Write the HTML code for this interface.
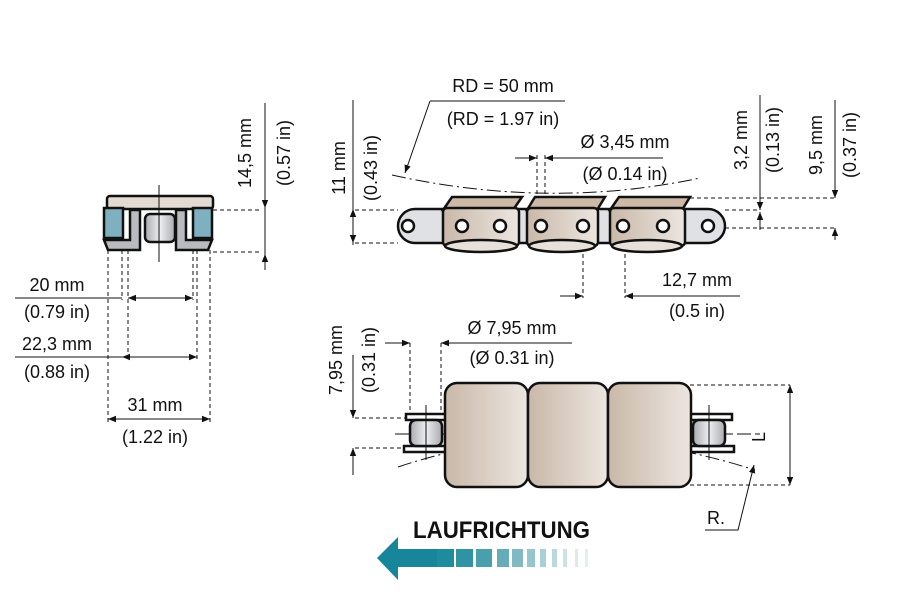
<!DOCTYPE html>
<html><head><meta charset="utf-8"><style>
html,body{margin:0;padding:0;background:#fff;width:900px;height:616px;overflow:hidden}
text{font-family:"Liberation Sans",sans-serif;font-size:18px;fill:#111}
</style></head><body>
<svg width="900" height="616" viewBox="0 0 900 616" xmlns="http://www.w3.org/2000/svg">
<defs>
<linearGradient id="tan" x1="0" x2="1"><stop offset="0" stop-color="#c9b8a8"/><stop offset="1" stop-color="#ece6e0"/></linearGradient>
<linearGradient id="grey" x1="0" x2="1"><stop offset="0" stop-color="#a9abb0"/><stop offset=".5" stop-color="#eceef0"/><stop offset="1" stop-color="#a9abb0"/></linearGradient>
<marker id="a" viewBox="0 0 10 10" refX="10" refY="5" markerWidth="8" markerHeight="8" orient="auto-start-reverse"><path d="M0,1 L10,5 L0,9 z" fill="#111"/></marker>
</defs>
<g stroke="#111" fill="none" stroke-width="1">
<g stroke-dasharray="4,3">
<line x1="122" y1="250" x2="122" y2="300"/><line x1="128" y1="250" x2="128" y2="360"/>
<line x1="108" y1="250" x2="108" y2="422"/><line x1="210" y1="250" x2="210" y2="422"/>
<line x1="193" y1="250" x2="193" y2="300"/><line x1="197" y1="250" x2="197" y2="360"/>
<line x1="213" y1="210" x2="262" y2="210"/><line x1="213" y1="252" x2="262" y2="252"/>
</g>
<line x1="15" y1="298" x2="122" y2="298"/><line x1="128" y1="298" x2="193" y2="298" marker-start="url(#a)" marker-end="url(#a)"/>
<line x1="15" y1="357" x2="122" y2="357"/><line x1="122" y1="357" x2="197" y2="357" marker-start="url(#a)" marker-end="url(#a)"/>
<line x1="108" y1="419" x2="210" y2="419" marker-start="url(#a)" marker-end="url(#a)"/>
<line x1="265" y1="103" x2="265" y2="208" marker-end="url(#a)"/><line x1="265" y1="270" x2="265" y2="254" marker-end="url(#a)"/>
<line x1="265" y1="103" x2="265" y2="270"/>
</g>
<g stroke="#111" stroke-width="2.5">
<rect x="107" y="196" width="106" height="13" rx="3" fill="#e3dbd1"/>
<path d="M104 240 H130 V210 H140 V250 H108 Z" fill="#b9bbbf"/>
<path d="M212 240 H186 V210 H176 V250 H208 Z" fill="#b9bbbf"/>
<rect x="104" y="208" width="19" height="30" fill="#7fb0bf"/>
<rect x="193" y="208" width="19" height="30" fill="#7fb0bf"/>
<rect x="145" y="214" width="30" height="28" rx="5" fill="url(#grey)"/>
</g>
<line x1="159" y1="185" x2="159" y2="262" stroke="#111" stroke-width="1"/>

<g stroke="#111" fill="none" stroke-width="1">
<line x1="353" y1="100" x2="353" y2="245"/>
<line x1="353" y1="215" x2="353" y2="209" marker-end="url(#a)"/><line x1="353" y1="236" x2="353" y2="243" marker-end="url(#a)"/>
<line x1="760" y1="95" x2="760" y2="210" marker-end="url(#a)"/><line x1="760" y1="230" x2="760" y2="212" marker-end="url(#a)"/>
<line x1="835" y1="100" x2="835" y2="198" marker-end="url(#a)"/><line x1="835" y1="240" x2="835" y2="228" marker-end="url(#a)"/>
<g stroke-dasharray="4,3">
<line x1="355" y1="210" x2="398" y2="210"/><line x1="355" y1="243" x2="398" y2="243"/>
<line x1="690" y1="198" x2="835" y2="198"/><line x1="725" y1="210" x2="760" y2="210"/><line x1="725" y1="228" x2="835" y2="228"/>
<line x1="537" y1="155" x2="537" y2="226"/><line x1="545" y1="155" x2="545" y2="226"/>
<line x1="583" y1="240" x2="583" y2="298"/><line x1="625" y1="240" x2="625" y2="298"/>
</g>
<line x1="515" y1="158" x2="537" y2="158" marker-end="url(#a)"/><line x1="663" y1="158" x2="545" y2="158" marker-end="url(#a)"/>
<line x1="560" y1="296" x2="583" y2="296" marker-end="url(#a)"/><line x1="740" y1="296" x2="625" y2="296" marker-end="url(#a)"/>
<line x1="430" y1="101" x2="565" y2="101"/><line x1="430" y1="101" x2="405" y2="173" marker-end="url(#a)"/>
<path d="M392 175 Q550 210 700 178" stroke-dasharray="14,4,2,4"/>
<line x1="400" y1="226" x2="720" y2="226" stroke-dasharray="12,4"/>
</g>
<g stroke="#111" stroke-width="2.5">
<rect x="398" y="209" width="327" height="34" rx="17" fill="#dfe1e4"/>
<path d="M443 210 L452 197 L522 197 L513 210 Z M527 210 L535 197 L605 197 L597 210 Z M610 210 L619 197 L690 197 L682 210 Z" fill="#cdb9a7"/>
<rect x="443" y="208" width="76" height="38" rx="4" fill="url(#tan)"/>
<rect x="527" y="208" width="71" height="38" rx="4" fill="url(#tan)"/>
<rect x="610" y="208" width="75" height="38" rx="4" fill="url(#tan)"/>
<ellipse cx="481" cy="246" rx="36" ry="6" fill="#e8e1da"/>
<ellipse cx="562" cy="246" rx="33" ry="6" fill="#e8e1da"/>
<ellipse cx="647" cy="246" rx="35" ry="6" fill="#e8e1da"/>
<g fill="#fff" stroke-width="2.5">
<circle cx="408" cy="226" r="6"/><circle cx="462" cy="226" r="6"/><circle cx="500" cy="226" r="6"/><circle cx="541" cy="226" r="6"/><circle cx="583" cy="226" r="6"/><circle cx="623" cy="226" r="6"/><circle cx="663" cy="226" r="6"/><circle cx="708" cy="226" r="6"/>
</g>
</g>

<g stroke="#111" fill="none" stroke-width="1">
<line x1="353" y1="355" x2="353" y2="418" marker-end="url(#a)"/><line x1="353" y1="475" x2="353" y2="448" marker-end="url(#a)"/>
<line x1="385" y1="343" x2="410" y2="343" marker-end="url(#a)"/><line x1="572" y1="343" x2="441" y2="343" marker-end="url(#a)"/>
<line x1="790" y1="385" x2="790" y2="485" marker-start="url(#a)" marker-end="url(#a)"/>
<g stroke-dasharray="4,3">
<line x1="410" y1="343" x2="410" y2="414"/><line x1="441" y1="343" x2="441" y2="414"/>
<line x1="355" y1="418" x2="445" y2="418"/><line x1="355" y1="448" x2="445" y2="448"/>
<line x1="690" y1="385" x2="790" y2="385"/><line x1="690" y1="485" x2="790" y2="485"/>
</g>
<line x1="395" y1="434" x2="760" y2="434" stroke-dasharray="14,4"/>
<path d="M398 467 Q567 410 755 470" stroke-dasharray="14,4,2,4"/>
<polyline points="705,530 738,530 754,465" marker-end="url(#a)"/>
</g>
<g stroke="#111" stroke-width="2.5">
<rect x="406" y="414" width="40" height="6" fill="#fff"/><rect x="404" y="446" width="42" height="6" fill="#fff"/>
<rect x="410" y="420" width="32" height="26" rx="6" fill="url(#grey)"/>
<rect x="690" y="414" width="42" height="6" fill="#fff"/><rect x="690" y="446" width="44" height="6" fill="#fff"/>
<rect x="693" y="420" width="32" height="26" rx="6" fill="url(#grey)"/>
<rect x="445" y="383" width="83" height="104" rx="12" fill="url(#tan)"/>
<rect x="528" y="383" width="80" height="104" rx="12" fill="url(#tan)"/>
<rect x="608" y="383" width="83" height="104" rx="12" fill="url(#tan)"/>
</g>
<g stroke="#111" stroke-width="1"><line x1="426" y1="405" x2="426" y2="460"/><line x1="709" y1="405" x2="709" y2="460"/></g>

<text x="57" y="291" text-anchor="middle">20 mm</text><text x="57" y="318" text-anchor="middle">(0.79 in)</text>
<text x="57" y="350" text-anchor="middle">22,3 mm</text><text x="57" y="378" text-anchor="middle">(0.88 in)</text>
<text x="155" y="411" text-anchor="middle">31 mm</text><text x="155" y="443" text-anchor="middle">(1.22 in)</text>
<text transform="translate(251,153) rotate(-90)" text-anchor="middle">14,5 mm</text>
<text transform="translate(290,153) rotate(-90)" text-anchor="middle">(0.57 in)</text>
<text transform="translate(345,168) rotate(-90)" text-anchor="middle">11 mm</text>
<text transform="translate(377,168) rotate(-90)" text-anchor="middle">(0.43 in)</text>
<text x="503" y="92" text-anchor="middle">RD = 50 mm</text><text x="503" y="125" text-anchor="middle">(RD = 1.97 in)</text>
<text x="625" y="148" text-anchor="middle">Ø 3,45 mm</text><text x="625" y="180" text-anchor="middle">(Ø 0.14 in)</text>
<text transform="translate(747,140) rotate(-90)" text-anchor="middle">3,2 mm</text>
<text transform="translate(779,140) rotate(-90)" text-anchor="middle">(0.13 in)</text>
<text transform="translate(822,145) rotate(-90)" text-anchor="middle">9,5 mm</text>
<text transform="translate(856,145) rotate(-90)" text-anchor="middle">(0.37 in)</text>
<text x="697" y="286" text-anchor="middle">12,7 mm</text><text x="697" y="317" text-anchor="middle">(0.5 in)</text>
<text transform="translate(342,360) rotate(-90)" text-anchor="middle">7,95 mm</text>
<text transform="translate(375,360) rotate(-90)" text-anchor="middle">(0.31 in)</text>
<text x="512" y="334" text-anchor="middle">Ø 7,95 mm</text><text x="512" y="364" text-anchor="middle">(Ø 0.31 in)</text>
<text transform="translate(765,437) rotate(-90)" text-anchor="middle">L</text>
<text x="716" y="524" text-anchor="middle">R.</text>

<text x="413" y="538" textLength="177" lengthAdjust="spacingAndGlyphs" style="font-size:24px;font-weight:bold">LAUFRICHTUNG</text>
<path d="M377 558 L398 537 L398 549 L437 549 L437 567 L398 567 L398 580 Z" fill="#17869a"/>
<g>
<rect x="437" y="549" width="17" height="18" fill="#1f8c9d"/>
<rect x="456" y="549" width="17" height="18" fill="#2f93a3"/>
<rect x="476" y="549" width="16" height="18" fill="#4a9fad"/>
<rect x="497" y="549" width="12" height="18" fill="#65abb8"/>
<rect x="512" y="549" width="11" height="18" fill="#80b9c3"/>
<rect x="527" y="549" width="8" height="18" fill="#97c5cd"/>
<rect x="540" y="549" width="6" height="18" fill="#aacfd5"/>
<rect x="552" y="549" width="5" height="18" fill="#bcd8dd"/>
<rect x="563" y="549" width="4" height="18" fill="#cde2e5"/>
<rect x="575" y="549" width="3" height="18" fill="#dde9eb"/>
<rect x="585" y="549" width="3" height="18" fill="#e6eff0"/>
</g>
</svg>
</body></html>
